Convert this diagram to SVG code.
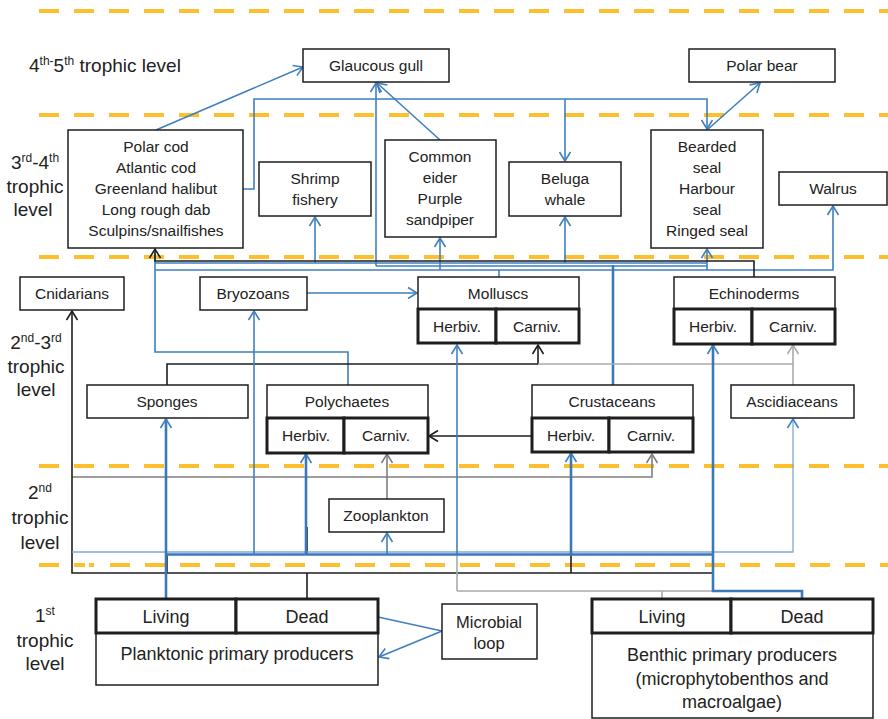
<svg xmlns="http://www.w3.org/2000/svg" width="888" height="719" viewBox="0 0 888 719">
  <style>
    .lvl { stroke: #FDBF2D; stroke-width: 4; stroke-dasharray: 20 15; fill: none; }
    .box { fill: #fff; stroke: #1e1e1e; stroke-width: 1.5; }
    .thk { fill: #fff; stroke: #1e1e1e; stroke-width: 3; }
    .t { font-family: "Liberation Sans", Arial, sans-serif; font-size: 15.5px; fill: #222; text-anchor: middle; }
    .tb { font-family: "Liberation Sans", Arial, sans-serif; font-size: 18px; fill: #222; text-anchor: middle; }
    .lbl { font-family: "Liberation Sans", Arial, sans-serif; font-size: 19px; fill: #222; text-anchor: middle; }
    .sup { font-size: 12px; }
    .b { fill: none; stroke: #3F7FBF; stroke-width: 1.6; }
    .bk { fill: none; stroke: #3A78BA; stroke-width: 2.6; }
    .bl { fill: none; stroke: #7EA8D8; stroke-width: 1.3; }
    .k { fill: none; stroke: #1e1e1e; stroke-width: 1.6; }
    .g { fill: none; stroke: #7F7F7F; stroke-width: 1.6; }
    .lg { fill: none; stroke: #ABABAB; stroke-width: 1.6; }
  </style>
  <defs>
    <marker id="ab" viewBox="-11 -7 13 14" refX="0" refY="0" markerWidth="13" markerHeight="14" markerUnits="userSpaceOnUse" orient="auto">
      <path d="M-9,-5.5 L0,0 L-9,5.5" fill="none" stroke="#3F7FBF" stroke-width="1.6"/>
    </marker>
    <marker id="ak" viewBox="-11 -7 13 14" refX="0" refY="0" markerWidth="13" markerHeight="14" markerUnits="userSpaceOnUse" orient="auto">
      <path d="M-9,-5.5 L0,0 L-9,5.5" fill="none" stroke="#1e1e1e" stroke-width="1.6"/>
    </marker>
    <marker id="ag" viewBox="-11 -7 13 14" refX="0" refY="0" markerWidth="13" markerHeight="14" markerUnits="userSpaceOnUse" orient="auto">
      <path d="M-9,-5.5 L0,0 L-9,5.5" fill="none" stroke="#7F7F7F" stroke-width="1.6"/>
    </marker>
    <marker id="alg" viewBox="-11 -7 13 14" refX="0" refY="0" markerWidth="13" markerHeight="14" markerUnits="userSpaceOnUse" orient="auto">
      <path d="M-9,-5.5 L0,0 L-9,5.5" fill="none" stroke="#ABABAB" stroke-width="1.6"/>
    </marker>
  </defs>

  <rect width="888" height="719" fill="#fff"/>

  <!-- trophic level separators -->
  <g id="levels">
    <line class="lvl" x1="39" y1="11" x2="888" y2="11"/>
    <line class="lvl" x1="39" y1="115" x2="888" y2="115"/>
    <line class="lvl" x1="39" y1="257" x2="888" y2="257"/>
    <line class="lvl" x1="39" y1="466" x2="888" y2="466"/>
    <line class="lvl" x1="39" y1="565" x2="95" y2="565" style="stroke-dasharray: 20 15 11 4 5 20"/>
    <line class="lvl" x1="110" y1="565" x2="888" y2="565"/>
  </g>

  <!-- level labels -->
  <g id="labels">
    <text class="lbl" x="29" y="72" style="text-anchor:start">4<tspan class="sup" dy="-7">th-</tspan><tspan dy="7">5</tspan><tspan class="sup" dy="-7">th</tspan><tspan dy="7"> trophic level</tspan></text>
    <text class="lbl" x="35" y="169">3<tspan class="sup" dy="-7">rd</tspan><tspan dy="7">-4</tspan><tspan class="sup" dy="-7">th</tspan></text>
    <text class="lbl" x="35" y="193">trophic</text>
    <text class="lbl" x="33" y="216">level</text>
    <text class="lbl" x="36" y="349">2<tspan class="sup" dy="-7">nd</tspan><tspan dy="7">-3</tspan><tspan class="sup" dy="-7">rd</tspan></text>
    <text class="lbl" x="36" y="373">trophic</text>
    <text class="lbl" x="36" y="396">level</text>
    <text class="lbl" x="40" y="499">2<tspan class="sup" dy="-7">nd</tspan></text>
    <text class="lbl" x="40" y="524">trophic</text>
    <text class="lbl" x="40" y="549">level</text>
    <text class="lbl" x="45" y="622">1<tspan class="sup" dy="-7">st</tspan></text>
    <text class="lbl" x="45" y="647">trophic</text>
    <text class="lbl" x="45" y="670">level</text>
  </g>

  <!-- feeding links -->
  <g id="connectors">
    <!-- top predators -->
    <path class="b" d="M156,130 L303,67" marker-end="url(#ab)"/>
    <path class="b" d="M243,189 H254 V99 H707 V129" marker-end="url(#ab)"/>
    <path class="b" d="M565,99 V161" marker-end="url(#ab)"/>
    <path class="b" d="M707,130 L760,83" marker-end="url(#ab)"/>
    <path class="b" d="M440,140 L377,83" marker-end="url(#ab)"/>
    <path class="b" d="M376,266 V83" marker-end="url(#ab)"/>

    <!-- bundle below the 3rd-4th level -->
    <path class="b" d="M155,263 H707"/>
    <path class="b" d="M376,266 H707"/>
    <path class="b" d="M155,270 H833 V206" marker-end="url(#ab)"/>
    <path class="b" d="M315,263 V217" marker-end="url(#ab)"/>
    <path class="b" d="M440,270 V238" marker-end="url(#ab)"/>
    <path class="b" d="M565,263 V217" marker-end="url(#ab)"/>
    <path class="b" d="M707,270 V249" marker-end="url(#ab)"/>
    <path class="b" d="M499,277 V270"/>
    <path class="bk" d="M613,385 V265"/>
    <path class="b" d="M348,385 V352 H155 V253"/>
    <path class="k" d="M754,277 V261 H155 V249" marker-end="url(#ak)"/>

    <!-- 2nd-3rd level links -->
    <path class="b" d="M307,293 H417" marker-end="url(#ab)"/>
    <path class="k" d="M167,385 V364 H538 V345" marker-end="url(#ak)"/>
    <path class="lg" d="M538,364 H793"/>
    <path class="lg" d="M793,385 V345" marker-end="url(#alg)"/>
    <path class="k" d="M532,436 H429" marker-end="url(#ak)"/>

    <!-- 2nd level links -->
    <path class="g" d="M72,477 H652 V454" marker-end="url(#ag)"/>
    <path class="g" d="M387,499 V454" marker-end="url(#ag)"/>

    <!-- links from primary producers -->
    <path class="k" d="M307,527 V554"/>
    <path class="k" d="M307,599 V573"/>
    <path class="k" d="M167,554 V573"/>
    <path class="k" d="M571,554 V573"/>
    <path class="k" d="M713,573 H72 V311" marker-end="url(#ak)"/>
    <path class="lg" d="M662,599 V591 M457,591 H713 M457,591 V555"/>
    <path class="bl" d="M72,552 H793 V419" marker-end="url(#ab)"/>
    <path class="bk" d="M166,554.5 H713"/>
    <path class="bk" d="M802,599 V591 H713 V345" marker-end="url(#ab)"/>
    <path class="bk" d="M166,599 V419" marker-end="url(#ab)"/>
    <path class="b" d="M254,554 V311" marker-end="url(#ab)"/>
    <path class="bk" d="M306,554 V454" marker-end="url(#ab)"/>
    <path class="b" d="M387,554 V533" marker-end="url(#ab)"/>
    <path class="b" d="M457,554 V345" marker-end="url(#ab)"/>
    <path class="bk" d="M571,554 V453" marker-end="url(#ab)"/>

    <!-- microbial loop -->
    <path class="b" d="M378,617 L442,631"/>
    <path class="b" d="M442,631 L379,657" marker-end="url(#ab)"/>
  </g>

  <!-- 4th-5th level -->
  <g id="glaucous-gull">
    <rect class="box" x="303" y="49" width="146" height="33"/>
    <text class="t" x="376" y="71">Glaucous gull</text>
  </g>
  <g id="polar-bear">
    <rect class="box" x="689" y="49" width="146" height="33"/>
    <text class="t" x="762" y="71">Polar bear</text>
  </g>

  <!-- 3rd-4th level -->
  <g id="fishes">
    <rect class="box" x="68" y="130" width="175" height="118"/>
    <text class="t" x="156" y="152">Polar cod</text>
    <text class="t" x="156" y="173">Atlantic cod</text>
    <text class="t" x="156" y="194">Greenland halibut</text>
    <text class="t" x="156" y="215">Long rough dab</text>
    <text class="t" x="156" y="236">Sculpins/snailfishes</text>
  </g>
  <g id="shrimp-fishery">
    <rect class="box" x="259" y="162" width="112" height="54"/>
    <text class="t" x="315" y="184">Shrimp</text>
    <text class="t" x="315" y="205">fishery</text>
  </g>
  <g id="seabirds">
    <rect class="box" x="385" y="140" width="111" height="97"/>
    <text class="t" x="440" y="162">Common</text>
    <text class="t" x="440" y="183">eider</text>
    <text class="t" x="440" y="204">Purple</text>
    <text class="t" x="440" y="225">sandpiper</text>
  </g>
  <g id="beluga-whale">
    <rect class="box" x="509" y="162" width="112" height="54"/>
    <text class="t" x="565" y="184">Beluga</text>
    <text class="t" x="565" y="205">whale</text>
  </g>
  <g id="seals">
    <rect class="box" x="651" y="130" width="112" height="118"/>
    <text class="t" x="707" y="152">Bearded</text>
    <text class="t" x="707" y="173">seal</text>
    <text class="t" x="707" y="194">Harbour</text>
    <text class="t" x="707" y="215">seal</text>
    <text class="t" x="707" y="236">Ringed seal</text>
  </g>
  <g id="walrus">
    <rect class="box" x="779" y="172" width="108" height="33"/>
    <text class="t" x="833" y="194">Walrus</text>
  </g>

  <!-- 2nd-3rd level -->
  <g id="cnidarians">
    <rect class="box" x="20" y="277" width="104" height="33"/>
    <text class="t" x="72" y="299">Cnidarians</text>
  </g>
  <g id="bryozoans">
    <rect class="box" x="200" y="277" width="107" height="33"/>
    <text class="t" x="253" y="299">Bryozoans</text>
  </g>
  <g id="molluscs">
    <rect class="box" x="418" y="277" width="161" height="32"/>
    <text class="t" x="498" y="299">Molluscs</text>
    <rect class="thk" x="418" y="309" width="78" height="34"/>
    <rect class="thk" x="496" y="309" width="83" height="34"/>
    <text class="t" x="457" y="332">Herbiv.</text>
    <text class="t" x="537" y="332">Carniv.</text>
  </g>
  <g id="echinoderms">
    <rect class="box" x="674" y="277" width="161" height="32"/>
    <text class="t" x="754" y="299">Echinoderms</text>
    <rect class="thk" x="674" y="309" width="78" height="35"/>
    <rect class="thk" x="752" y="309" width="83" height="35"/>
    <text class="t" x="713" y="332">Herbiv.</text>
    <text class="t" x="793" y="332">Carniv.</text>
  </g>
  <g id="sponges">
    <rect class="box" x="87" y="385" width="161" height="33"/>
    <text class="t" x="167" y="407">Sponges</text>
  </g>
  <g id="polychaetes">
    <rect class="box" x="267" y="385" width="161" height="33"/>
    <text class="t" x="347" y="407">Polychaetes</text>
    <rect class="thk" x="267" y="418" width="77" height="35"/>
    <rect class="thk" x="344" y="418" width="84" height="35"/>
    <text class="t" x="306" y="441">Herbiv.</text>
    <text class="t" x="386" y="441">Carniv.</text>
  </g>
  <g id="crustaceans">
    <rect class="box" x="532" y="385" width="161" height="33"/>
    <text class="t" x="612" y="407">Crustaceans</text>
    <rect class="thk" x="532" y="418" width="77" height="34"/>
    <rect class="thk" x="609" y="418" width="84" height="34"/>
    <text class="t" x="571" y="441">Herbiv.</text>
    <text class="t" x="651" y="441">Carniv.</text>
  </g>
  <g id="ascidiaceans">
    <rect class="box" x="731" y="385" width="123" height="33"/>
    <text class="t" x="792" y="407">Ascidiaceans</text>
  </g>

  <!-- 2nd level -->
  <g id="zooplankton">
    <rect class="box" x="329" y="499" width="115" height="33"/>
    <text class="t" x="386" y="521">Zooplankton</text>
  </g>

  <!-- 1st level -->
  <g id="planktonic-producers">
    <rect class="box" x="96" y="633" width="282" height="52"/>
    <rect class="thk" x="96" y="599" width="140" height="34"/>
    <rect class="thk" x="236" y="599" width="142" height="34"/>
    <text class="tb" x="166" y="623">Living</text>
    <text class="tb" x="307" y="623">Dead</text>
    <text class="tb" x="237" y="660">Planktonic primary producers</text>
  </g>
  <g id="microbial-loop">
    <rect class="box" x="442" y="604" width="95" height="55"/>
    <text class="t" x="489" y="628" style="font-size:16.5px">Microbial</text>
    <text class="t" x="489" y="649" style="font-size:16.5px">loop</text>
  </g>
  <g id="benthic-producers">
    <rect class="box" x="592" y="633" width="281" height="85"/>
    <rect class="thk" x="592" y="599" width="139" height="34"/>
    <rect class="thk" x="731" y="599" width="142" height="34"/>
    <text class="tb" x="662" y="623">Living</text>
    <text class="tb" x="802" y="623">Dead</text>
    <text class="tb" x="732" y="661">Benthic primary producers</text>
    <text class="tb" x="732" y="685">(microphytobenthos and</text>
    <text class="tb" x="732" y="708">macroalgae)</text>
  </g>
</svg>
